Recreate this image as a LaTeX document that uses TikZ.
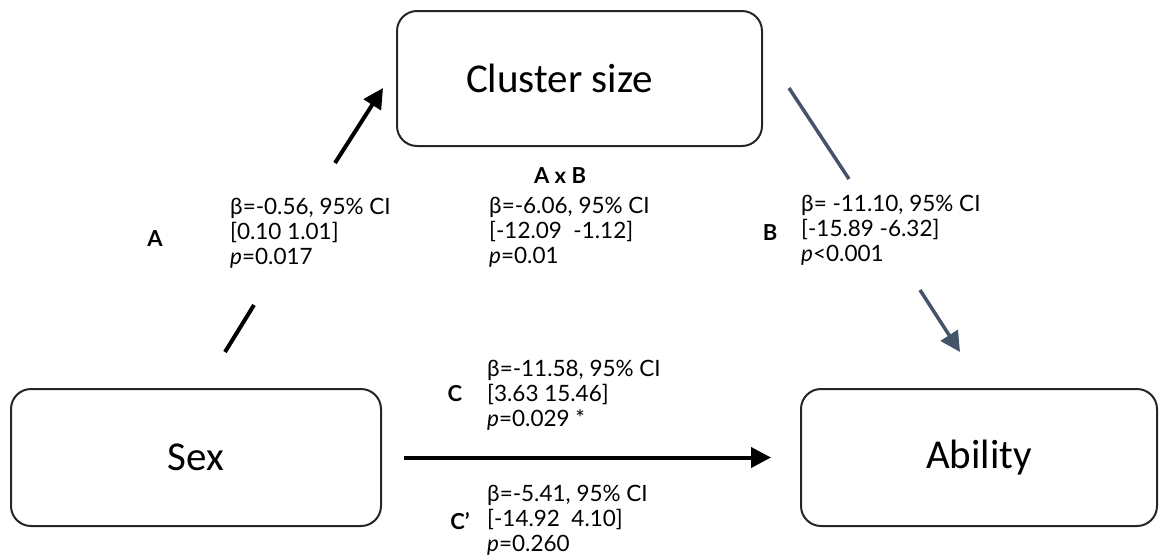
\documentclass[tikz,border=0pt]{standalone}
\usepackage{fontspec}
\setmainfont{Lato}
\newfontfamily\boxfont{Carlito}
\usetikzlibrary{arrows.meta}
\definecolor{slate}{HTML}{44546A}
\definecolor{boxline}{HTML}{262626}
\begin{document}
\begin{tikzpicture}[x=1pt,y=-1pt,
  box/.style={draw=boxline,line width=2pt,rounded corners=20pt,minimum width=365pt,minimum height=135pt,font=\boxfont\fontsize{41}{46}\selectfont,inner sep=0pt},
  stat/.style={anchor=north west,inner sep=0pt,align=left,font=\fontsize{22.5}{25}\selectfont},
  tag/.style={inner sep=0pt,font=\bfseries\fontsize{22}{24}\selectfont},
  blackarrow/.style={line width=4pt,-{Triangle[length=20pt,width=20pt]}},
  slatearrow/.style={draw=slate,line width=3.5pt,-{Triangle[length=20pt,width=20pt]}},
]
\useasboundingbox (0,0) rectangle (1159,558);
\node[box] (cluster) at (579.5,78.5) {\hspace*{-40pt}Cluster size};
\node[box,minimum width=370pt,minimum height=137pt] (sex) at (196,457.5) {Sex};
\node[box,minimum width=356pt,minimum height=137pt] (ability) at (979,457.5) {Ability};

% A path
\coordinate (a1) at (225,352);
\coordinate (a2) at (254,305);
\coordinate (a3) at (335,163);
\coordinate (a4) at (383,88);
\draw[line width=4pt] (a1) -- (a2);
\draw[blackarrow] (a3) -- (a4);

% B path
\coordinate (b1) at (789,88);
\coordinate (b2) at (849,179);
\coordinate (b3) at (920,290);
\coordinate (b4) at (960,352);
\draw[draw=slate,line width=3.5pt] (b1) -- (b2);
\draw[slatearrow,fill=slate] (b3) -- (b4);

% C path
\draw[blackarrow,shorten <=22pt,shorten >=29pt] (sex) -- (ability);

% labels
\node[tag] (tA) at (155,239) {A};
\node[stat] (sA) at (230,198) {β=-0.56, 95\% CI\\{}[0.10 1.01]\\\textit{p}=0.017};

\node[tag] (tAB) at (560,176) {A x B};
\node[stat] (sAB) at (489,197) {β=-6.06, 95\% CI\\{}[-12.09~~-1.12]\\\textit{p}=0.01};

\node[tag] (tB) at (770,233) {B};
\node[stat] (sB) at (801,195) {β= -11.10, 95\% CI\\{}[-15.89 -6.32]\\\textit{p}<0.001};

\node[tag] (tC) at (455,394) {C};
\node[stat] (sC) at (487,360) {β=-11.58, 95\% CI\\{}[3.63 15.46]\\\textit{p}=0.029 *};

\node[tag] (tC2) at (460,521) {C’};
\node[stat] (sC2) at (487,485) {β=-5.41, 95\% CI\\{}[-14.92~~4.10]\\\textit{p}=0.260};
\end{tikzpicture}
\end{document}
